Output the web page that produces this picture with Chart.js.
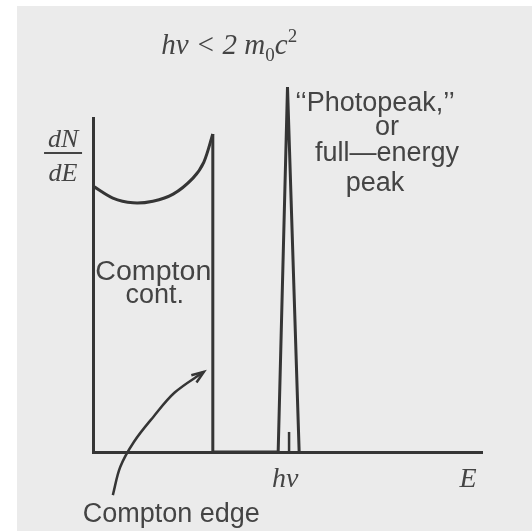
<!DOCTYPE html>
<html>
<head>
<meta charset="utf-8">
<script src="https://cdn.jsdelivr.net/npm/chart.js@4/dist/chart.umd.min.js"></script>
<style>
  html, body { margin: 0; padding: 0; background: #fff; }
  #spectrum { display: block; }
</style>
</head>
<body>
<canvas id="spectrum" width="532" height="531"></canvas>
<script>
// pulse-height spectrum, arbitrary units (E across 0..100, dN/dE 0..100)
var continuumE = [0, 5.1, 10.3, 15.4, 20.6, 25.7, 28.5, 30.8];
var continuumN = [79.6, 76.0, 74.6, 75.1, 77.2, 82.0, 86.8, 95.2];

// compton edge drop, flat floor, then the full-energy peak
var peakE = [30.8, 30.8, 47.6, 50.0, 53.0];
var peakN = [95.2, 0, 0, 109.3, 0];

// little marker under the peak at hv
var markE = [50.4, 50.4];
var markN = [0, 6.0];

// arrow from the "Compton edge" label up toward the edge
var arrowE = [5.1, 7.0, 10.5, 15.5, 21.0, 28.5];
var arrowN = [-12.9, -4.5, 3.0, 10.5, 17.8, 24.0];

var labelTexts = ['Compton', 'cont.', '\u2018\u2018Photopeak,\u2019\u2019', 'or', 'full\u2014energy', 'peak', 'Compton edge'];
var labelAt = [[15.5, 51.5], [15.9, 44.6], [72.5, 102.0], [75.6, 95.0], [75.6, 87.0], [72.5, 78.0], [20.1, -21.0]];

var INK = '#353535';
var TEXT = '#444444';
var SANS = '"Liberation Sans", Arial, sans-serif';
var SERIF = '"Liberation Serif", "Times New Roman", serif';

function pts(xs, ys) {
  return xs.map(function (x, i) { return { x: x, y: ys[i] }; });
}

// paper tone of the page
var paper = {
  id: 'paper',
  beforeDraw: function (chart) {
    var c = chart.ctx;
    c.save();
    c.fillStyle = '#ffffff';
    c.fillRect(0, 0, chart.width, chart.height);
    c.fillStyle = '#ebebeb';
    c.fillRect(17, 6, chart.width - 17, chart.height - 6);
    c.restore();
  }
};

// text labels, the math pieces and the arrow head
var notes = {
  id: 'notes',
  afterDatasetsDraw: function (chart) {
    var c = chart.ctx, sx = chart.scales.x, sy = chart.scales.y;
    function px(x) { return sx.getPixelForValue(x); }
    function py(y) { return sy.getPixelForValue(y); }
    c.save();
    c.fillStyle = TEXT;
    c.textBaseline = 'alphabetic';

    c.font = '27px ' + SANS;
    c.textAlign = 'center';
    labelTexts.forEach(function (t, i) {
      var x = px(labelAt[i][0]), y = py(labelAt[i][1]);
      if (i === 0) {
        // stretch "Compton" to sit between the two walls
        var w = c.measureText(t).width;
        c.save();
        c.translate(x, y);
        c.scale(116 / w, 1);
        c.fillText(t, 0, 0);
        c.restore();
      } else {
        c.fillText(t, x, y);
      }
    });

    // axis letters
    c.font = 'italic 28px ' + SERIF;
    c.fillText('h\u03BD', px(49.4), py(-10.5));
    c.fillText('E', px(96.4), py(-10.5));

    // dN/dE fraction at the top of the y axis
    var fx = px(-7.7), fy = py(89.5);
    c.font = 'italic 26px ' + SERIF;
    c.fillText('dN', fx, fy - 6);
    c.fillText('dE', fx, fy + 28);
    c.strokeStyle = TEXT;
    c.lineWidth = 2;
    c.beginPath();
    c.moveTo(fx - 19, fy);
    c.lineTo(fx + 19, fy);
    c.stroke();

    // hv < 2 m0 c^2 header
    var parts = [
      { t: 'h\u03BD < 2 m', f: 'italic 29px ', dy: 0 },
      { t: '0', f: '19px ', dy: 7 },
      { t: 'c', f: 'italic 29px ', dy: 0 },
      { t: '2', f: '19px ', dy: -12 }
    ];
    var w = 0;
    parts.forEach(function (p) { c.font = p.f + SERIF; w += c.measureText(p.t).width; });
    var x0 = px(35.0) - w / 2, by = py(119.2);
    c.textAlign = 'left';
    parts.forEach(function (p) {
      c.font = p.f + SERIF;
      c.fillText(p.t, x0, by + p.dy);
      x0 += c.measureText(p.t).width;
    });

    // arrow head at the end of the arrow curve
    var n = arrowE.length;
    var ex = px(arrowE[n - 1]), ey = py(arrowN[n - 1]);
    var ang = Math.atan2(ey - py(arrowN[n - 2]), ex - px(arrowE[n - 2]));
    c.strokeStyle = INK;
    c.lineWidth = 2.5;
    c.beginPath();
    c.moveTo(ex - 13 * Math.cos(ang - 0.35), ey - 13 * Math.sin(ang - 0.35));
    c.lineTo(ex, ey);
    c.lineTo(ex - 13 * Math.cos(ang + 0.35), ey - 13 * Math.sin(ang + 0.35));
    c.stroke();
    c.restore();
  }
};

function lineSet(data, width, tension) {
  return {
    data: data,
    showLine: true,
    borderColor: INK,
    borderWidth: width,
    pointRadius: 0,
    tension: tension,
    fill: false,
    clip: false
  };
}

var flatAxis = function (s) { s.width = s.isHorizontal() ? s.width : 0; s.height = s.isHorizontal() ? 0 : s.height; };

new Chart(document.getElementById('spectrum'), {
  type: 'scatter',
  data: {
    datasets: [
      lineSet(pts(continuumE, continuumN), 3, 0.3),
      lineSet(pts(peakE, peakN), 3, 0),
      lineSet(pts(markE, markN), 2.5, 0),
      lineSet(pts(arrowE, arrowN), 2.5, 0.35)
    ]
  },
  options: {
    responsive: false,
    animation: false,
    devicePixelRatio: 1,
    layout: { padding: { left: 93, top: 118, right: 50, bottom: 79 } },
    plugins: { legend: { display: false }, tooltip: { enabled: false } },
    scales: {
      x: {
        type: 'linear', min: 0, max: 100,
        grid: { display: false, drawTicks: false },
        ticks: { display: false },
        border: { display: true, color: INK, width: 3 },
        afterFit: flatAxis
      },
      y: {
        type: 'linear', min: 0, max: 100,
        grid: { display: false, drawTicks: false },
        ticks: { display: false },
        border: { display: true, color: INK, width: 3 },
        afterFit: flatAxis
      }
    }
  },
  plugins: [paper, notes]
});
</script>
</body>
</html>
